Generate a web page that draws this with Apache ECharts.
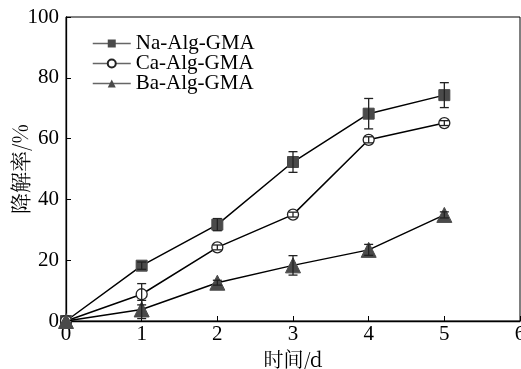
<!DOCTYPE html>
<html><head><meta charset="utf-8">
<script src="https://cdn.jsdelivr.net/npm/echarts@6/dist/echarts.min.js"></script>
<style>html,body{margin:0;padding:0;background:#fff}#c{width:521px;height:369px}</style>
</head><body><div id="c"></div>
<script>
var days = [0, 1, 2, 3, 4, 5];
var seriesNames = ['Na-Alg-GMA', 'Ca-Alg-GMA', 'Ba-Alg-GMA'];
var naVals = [0, 18.2, 31.7, 52.3, 68.2, 74.3];
var naErr = [0, 1.2, 2.0, 3.4, 5.0, 4.1];
var caVals = [0, 8.8, 24.2, 35.0, 59.6, 65.1];
var caErr = [0, 3.5, 0.8, 0.8, 1.0, 0.8];
var baVals = [0, 3.8, 12.6, 18.3, 23.4, 34.9];
var baErr = [0, 3.0, 0.8, 3.2, 1.8, 1.0];
var xTicks = [0, 1, 2, 3, 4, 5, 6];
var yTicks = [0, 20, 40, 60, 80, 100];

var FONT = '"Liberation Serif","Times New Roman",serif';
var CJK = '"Noto Serif CJK SC","Noto Sans CJK SC",serif';
var MARK = '#4a4a4a';

function pts(vals) { return days.map(function (d, i) { return [d, vals[i]]; }); }
function errData(vals, errs) { return days.map(function (d, i) { return [d, vals[i] - errs[i], vals[i] + errs[i]]; }); }
function errSeries(vals, errs) {
  return {
    type: 'custom', z: 5, silent: true,
    data: errData(vals, errs),
    renderItem: function (params, api) {
      var lo = api.coord([api.value(0), api.value(1)]);
      var hi = api.coord([api.value(0), api.value(2)]);
      if (Math.abs(hi[1] - lo[1]) < 0.5) return null;
      var w = 4.5;
      var st = { stroke: '#222', lineWidth: 1.3 };
      return {
        type: 'group', children: [
          { type: 'line', shape: { x1: lo[0], y1: lo[1], x2: hi[0], y2: hi[1] }, style: st },
          { type: 'line', shape: { x1: lo[0] - w, y1: lo[1], x2: lo[0] + w, y2: lo[1] }, style: st },
          { type: 'line', shape: { x1: hi[0] - w, y1: hi[1], x2: hi[0] + w, y2: hi[1] }, style: st }
        ]
      };
    }
  };
}

var chart = echarts.init(document.getElementById('c'), null, { renderer: 'canvas' });
chart.setOption({
  animation: false,
  textStyle: { fontFamily: FONT },
  grid: { left: 66, right: 1, top: 17, bottom: 48, containLabel: false, outerBoundsMode: 'none',
    show: true, borderColor: '#000', borderWidth: 1, backgroundColor: 'transparent' },
  legend: {
    data: seriesNames, orient: 'vertical', left: 92, top: 33, padding: 0,
    itemWidth: 38, itemHeight: 10, itemGap: -1,
    textStyle: { fontFamily: FONT, fontSize: 21, color: '#000', lineHeight: 20 },
    lineStyle: { color: '#666', width: 1.5 }
  },
  xAxis: {
    type: 'value', min: 0, max: 6, interval: 1,
    name: '时间/d', nameLocation: 'middle', nameGap: 28,
    nameTextStyle: { fontFamily: CJK, fontSize: 20, color: '#000' },
    axisLine: { show: true, lineStyle: { color: '#000', width: 1.3 } },
    axisTick: { show: true, inside: true, length: 5, lineStyle: { color: '#000' } },
    axisLabel: { fontFamily: FONT, fontSize: 21, color: '#000', margin: 3, formatter: function (v) { return xTicks.indexOf(v) >= 0 ? String(v) : ''; } },
    splitLine: { show: false }
  },
  yAxis: {
    type: 'value', min: 0, max: 100, interval: 20,
    name: '降解率/%', nameLocation: 'middle', nameGap: 35, nameRotate: 90, nameMoveOverlap: false,
    nameTextStyle: { fontFamily: CJK, fontSize: 21, color: '#000' },
    axisLine: { show: true, lineStyle: { color: '#000', width: 1.3 } },
    axisTick: { show: true, inside: true, length: 5, lineStyle: { color: '#000' } },
    axisLabel: { fontFamily: FONT, fontSize: 21, color: '#000', margin: 7, formatter: function (v) { return yTicks.indexOf(v) >= 0 ? String(v) : ''; } },
    splitLine: { show: false }
  },
  series: [
    { name: seriesNames[0], type: 'line', data: pts(naVals), symbol: 'rect', symbolSize: 11, z: 3,
      lineStyle: { color: '#000', width: 1.5 }, itemStyle: { color: MARK, borderColor: MARK } },
    { name: seriesNames[1], type: 'line', data: pts(caVals), symbol: 'circle', symbolSize: 11, z: 3,
      lineStyle: { color: '#000', width: 1.5 }, itemStyle: { color: '#fff', borderColor: '#222', borderWidth: 1.3 } },
    { name: seriesNames[2], type: 'line', data: pts(baVals), symbol: 'triangle', symbolSize: 15, z: 4,
      lineStyle: { color: '#000', width: 1.5 }, itemStyle: { color: MARK, borderColor: MARK } },
    errSeries(naVals, naErr),
    errSeries(caVals, caErr),
    errSeries(baVals, baErr)
  ]
});
</script></body></html>
